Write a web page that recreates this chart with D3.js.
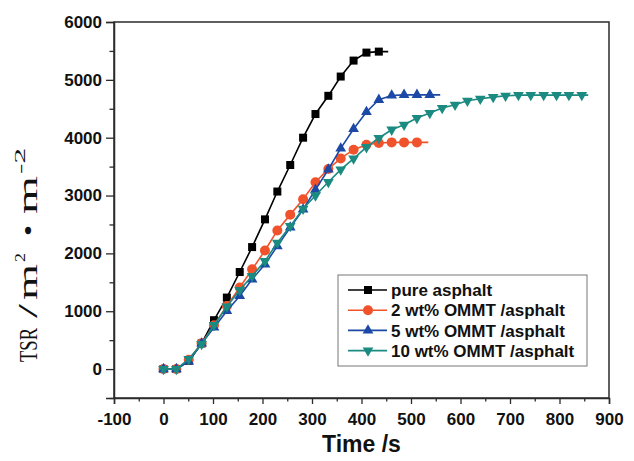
<!DOCTYPE html>
<html>
<head>
<meta charset="utf-8">
<script src="https://cdn.jsdelivr.net/npm/d3@7"></script>
<style>
  html, body { margin: 0; padding: 0; background: #fff; }
  svg { display: block; }
</style>
</head>
<body>
<svg id="chart" width="634" height="461"></svg>
<script>
// ---- data ----
const times = [0,26,51,77,102,128,154,179,205,230,256,282,307,333,358,384,410,435,461,486,512,538,563,589,614,640,666,691,717,742,768,794,819,845];
const seriesNames = ["pure asphalt", "2 wt% OMMT /asphalt", "5 wt% OMMT /asphalt", "10 wt% OMMT /asphalt"];
const pureAsphalt = [0,0,143,443,845,1236,1678,2109,2588,3069,3528,4000,4409,4724,5057,5333,5471,5488];
const ommt2 = [0,0,160,448,759,1091,1409,1724,2050,2397,2670,2937,3230,3460,3642,3793,3879,3909,3919,3919,3919];
const ommt5 = [0,0,133,443,719,1005,1264,1552,1810,2126,2448,2759,3103,3450,3815,4150,4445,4655,4729,4741,4741,4741];
const ommt10 = [0,0,172,431,759,1081,1367,1609,1867,2184,2471,2771,3000,3233,3448,3638,3836,3995,4138,4224,4340,4426,4512,4569,4638,4672,4702,4724,4736,4736,4736,4736,4736,4736];
const lineEndTimes = [454, 535, 559, 858];
const xTicks = [-100,0,100,200,300,400,500,600,700,800,900];
const yTicks = [0,1000,2000,3000,4000,5000,6000];
const xMinor = [-50,50,150,250,350,450,550,650,750,850];
const yMinor = [-500,500,1500,2500,3500,4500,5500];
const yTitleParts = ["TSR", "/", "m", "2", "\u2022", "m", "-2"];

const colors = ["#000000", "#f0532b", "#1c48a6", "#1b8a80"];
const shapes = ["square", "circle", "triUp", "triDown"];
const allValues = [pureAsphalt, ommt2, ommt5, ommt10];

// ---- layout ----
const svg = d3.select("#chart");
const L = 114, R = 609, T = 22, B = 398;
const x = d3.scaleLinear().domain([-100, 900]).range([L, R]);
const y = d3.scaleLinear().domain([-500, 6000]).range([B, T]);
const axisColor = "#2b2b2b";
const tickFont = "'Liberation Sans', Arial, sans-serif";
const fmt = d => String(d);

// frame
svg.append("rect").attr("x", L).attr("y", T).attr("width", R - L).attr("height", B - T)
  .attr("fill", "none").attr("stroke", axisColor).attr("stroke-width", 1.5);

// x axis
svg.append("g").attr("transform", `translate(0,${B})`)
  .call(d3.axisBottom(x).tickValues(xTicks).tickSize(6).tickPadding(9).tickFormat(fmt));
svg.append("g").attr("transform", `translate(0,${B})`)
  .call(d3.axisBottom(x).tickValues(xMinor).tickSize(3.5).tickFormat(""))
  .call(g => g.select(".domain").remove());
// y axis
svg.append("g").attr("transform", `translate(${L},0)`)
  .call(d3.axisLeft(y).tickValues(yTicks).tickSize(8).tickPadding(4).tickFormat(fmt));
svg.append("g").attr("transform", `translate(${L},0)`)
  .call(d3.axisLeft(y).tickValues(yMinor).tickSize(4.5).tickFormat(""))
  .call(g => g.select(".domain").remove());

svg.selectAll(".domain").attr("stroke", axisColor).attr("stroke-width", 1.5);
svg.selectAll(".tick line").attr("stroke", axisColor).attr("stroke-width", 1.3);
svg.selectAll(".tick text").attr("font-family", tickFont).attr("font-weight", "bold")
  .attr("font-size", 17).attr("fill", "#111");

// axis titles
svg.append("text").attr("x", (L + R) / 2).attr("y", 452).attr("text-anchor", "middle")
  .attr("font-family", tickFont).attr("font-weight", "bold").attr("font-size", 23)
  .attr("fill", "#111").text("Time /s");

// y title: rotated serif text
const ytg = svg.append("g").attr("transform", "translate(37,362) rotate(-90)");
const partLayout = [
  {u: 0,   len: 34, size: 26, dy: 0},
  {u: 44,  len: 14, size: 28, dy: 0},
  {u: 62,  len: 36, size: 28, dy: 0},
  {u: 100, len: 9,  size: 15, dy: -12},
  {u: 126, len: 11, size: 26, dy: 0},
  {u: 148, len: 38, size: 28, dy: 0},
  {u: 188, len: 26, size: 15, dy: -12}
];
yTitleParts.forEach((t, i) => {
  const p = partLayout[i];
  ytg.append("text").attr("x", p.u).attr("y", p.dy)
    .attr("font-family", "'Liberation Serif', 'Times New Roman', serif")
    .attr("font-size", p.size).attr("fill", "#111")
    .attr("textLength", p.len).attr("lengthAdjust", "spacingAndGlyphs")
    .text(t);
});

// ---- markers ----
function marker(g, shape, color, cx, cy) {
  if (shape === "square") {
    g.append("rect").attr("x", cx - 4).attr("y", cy - 4).attr("width", 8).attr("height", 8).attr("fill", color);
  } else if (shape === "circle") {
    g.append("circle").attr("cx", cx).attr("cy", cy).attr("r", 5).attr("fill", color);
  } else {
    const p = d3.symbol().type(d3.symbolTriangle).size(50)();
    g.append("path").attr("d", p).attr("fill", color)
      .attr("transform", `translate(${cx},${cy})` + (shape === "triDown" ? " rotate(180)" : ""));
  }
}

const plot = svg.append("g");
const line = d3.line().x(d => x(d[0])).y(d => y(d[1]));
allValues.forEach((vals, s) => {
  const pts = vals.map((v, i) => [times[i], v]);
  const linePts = pts.concat([[lineEndTimes[s], vals[vals.length - 1]]]);
  const g = plot.append("g");
  g.append("path").attr("d", line(linePts)).attr("fill", "none")
    .attr("stroke", colors[s]).attr("stroke-width", 1.6);
  pts.forEach(p => marker(g, shapes[s], colors[s], x(p[0]), y(p[1])));
});

// ---- legend ----
const lg = svg.append("g");
lg.append("rect").attr("x", 338).attr("y", 275).attr("width", 249).attr("height", 91)
  .attr("fill", "#fff").attr("stroke", "#777").attr("stroke-width", 1);
seriesNames.forEach((name, i) => {
  const ry = 290 + i * 20.2;
  lg.append("line").attr("x1", 348).attr("x2", 387).attr("y1", ry).attr("y2", ry)
    .attr("stroke", colors[i]).attr("stroke-width", 1.6);
  marker(lg, shapes[i], colors[i], 368, ry);
  lg.append("text").attr("x", 391).attr("y", ry).attr("dy", "0.36em")
    .attr("font-family", tickFont).attr("font-weight", "bold").attr("font-size", 17)
    .attr("fill", "#111").text(name);
});
</script>
</body>
</html>
